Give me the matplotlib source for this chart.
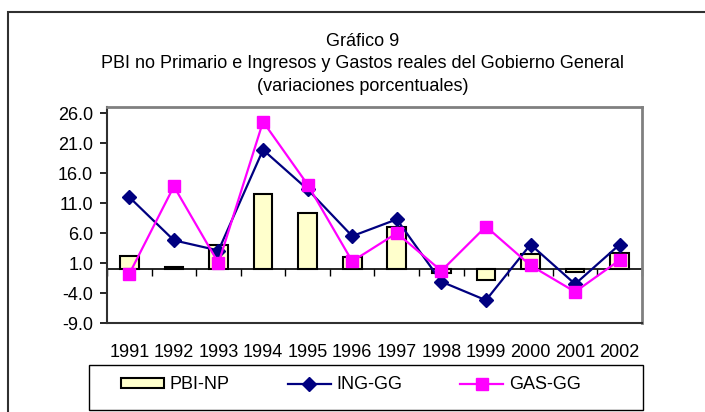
import numpy as np
import matplotlib.pyplot as plt
from matplotlib.patches import Rectangle

plt.rcParams['font.family'] = ['Liberation Sans', 'DejaVu Sans']

# Datos (variaciones porcentuales)
anios = ['1991', '1992', '1993', '1994', '1995', '1996',
         '1997', '1998', '1999', '2000', '2001', '2002']
pbi_np = [2.1, 0.3, 4.0, 12.6, 9.4, 2.0, 7.0, -0.6, -1.8, 2.5, -0.5, 2.7]
ing_gg = [12.0, 4.8, 3.1, 19.9, 13.3, 5.5, 8.3, -2.1, -5.2, 4.1, -2.5, 4.1]
gas_gg = [-0.8, 13.8, 1.0, 24.6, 14.1, 1.3, 6.0, -0.3, 7.1, 0.6, -3.8, 1.5]
yticks = [-9, -4, 1, 6, 11, 16, 21, 26]

x = np.arange(len(anios))
fs = 13

fig = plt.figure(figsize=(7.05, 4.12), dpi=100)
ax = fig.add_axes([0.1518, 0.216, 0.7588, 0.5236])

bars = ax.bar(x, pbi_np, width=0.42, color='#FFFFCC', edgecolor='black',
              linewidth=1.5, label='PBI-NP', zorder=2)
l1, = ax.plot(x, ing_gg, color='#000080', lw=1.6, marker='D', ms=7,
              label='ING-GG', zorder=3)
l2, = ax.plot(x, gas_gg, color='#FF00FF', lw=1.6, marker='s', ms=9,
              label='GAS-GG', zorder=4)

ax.set_xlim(-0.5, len(anios) - 0.5)
ax.set_ylim(-9, 27)
ax.set_yticks(yticks)
ax.set_yticklabels([f'{v:.1f}' for v in yticks])
ax.set_xticks(x)
ax.set_xticklabels(anios)
ax.tick_params(axis='x', length=0, pad=15, labelsize=fs)
ax.tick_params(axis='y', direction='out', length=5, width=1.2, pad=5, labelsize=fs)

for s in ['top', 'right']:
    ax.spines[s].set_color('#808080')
    ax.spines[s].set_linewidth(2)
for s in ['left', 'bottom']:
    ax.spines[s].set_color('#303030')
    ax.spines[s].set_linewidth(1.5)

# eje de categorias en cero
sec = ax.secondary_xaxis(9 / 36)
sec.set_xticks(np.arange(len(anios) + 1) - 0.5)
sec.set_xticklabels([])
sec.tick_params(direction='out', length=5, width=1, color='black')
sec.spines['bottom'].set_color('black')
sec.spines['bottom'].set_linewidth(1.2)

fig.text(0.514, 0.9, 'Gráfico 9', ha='center', va='center', fontsize=fs)
fig.text(0.514, 0.846, 'PBI no Primario e Ingresos y Gastos reales del Gobierno General',
         ha='center', va='center', fontsize=fs)
fig.text(0.514, 0.789, '(variaciones porcentuales)', ha='center', va='center', fontsize=fs)

# leyenda
fig.add_artist(Rectangle((89 / 705, 2 / 412), 554 / 705, 45 / 412,
                         transform=fig.transFigure, fill=False,
                         edgecolor='black', linewidth=1))
fig.legend(handles=[bars, l1, l2], loc='center left', ncol=3,
           bbox_to_anchor=(121 / 705, 0.066), fontsize=fs, frameon=False,
           handlelength=2.4, handleheight=0.5, handletextpad=0.3,
           columnspacing=3.2, borderaxespad=0, borderpad=0)

# borde del grafico
fig.add_artist(Rectangle((8 / 705, -0.2), 1.2, 0.971 + 0.2, transform=fig.transFigure,
                         fill=False, edgecolor='#303030', linewidth=1.5))

fig.savefig('out.png', dpi=100)
